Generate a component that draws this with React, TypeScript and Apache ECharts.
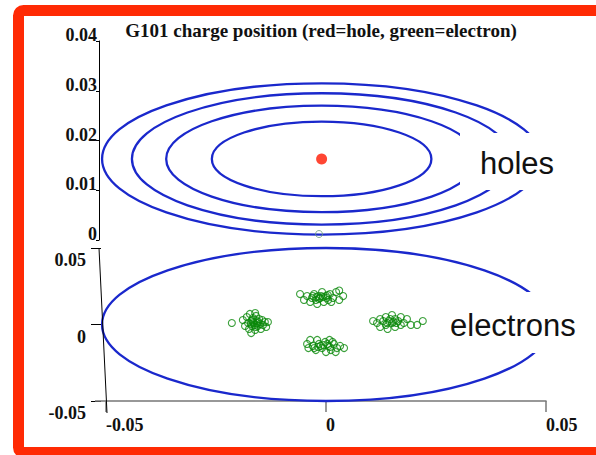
import React, { useEffect, useRef } from "react";
import * as echarts from "echarts";

const titleText = "G101 charge position (red=hole, green=electron)";
const holeLabel = "holes";
const electronLabel = "electrons";

// upper panel (holes): y ticks 0..0.04
const holeYMin = 0;
const holeYMax = 0.04;
const holeYStep = 0.01;
const holeXMin = -0.0518;
const holeXMax = 0.05;

// lower panel (electrons): both axes -0.05..0.05
const elecMin = -0.05;
const elecMax = 0.05;
const elecStep = 0.05;

// hole position and the contour rings around it: [cx, cy]
const holeCenter = [-0.0011, 0.0163];
const holeRingRx = [0.025, 0.0354, 0.0432, 0.05];
const holeRingRy = [0.0075, 0.0107, 0.0132, 0.0152];
const holeStrayElectron = [[-0.0017, 0.0012]];

// electron contour ring: [cx, cy, rx, ry]
const electronRing = [0, 0, 0.0509, 0.05];

const electronsLeft = [
  [-0.0214, 0.001], [-0.0189, 0.0029], [-0.0184, -0.001], [-0.018, 0.0049], [-0.0177, 0.001],
  [-0.0175, -0.0029], [-0.0173, 0.0069], [-0.017, 0.0023], [-0.0168, -0.001], [-0.0166, 0.0042],
  [-0.0164, 0.001], [-0.0161, -0.0036], [-0.0159, 0.0056], [-0.0157, 0.0023], [-0.0155, -0.001],
  [-0.0152, 0.0036], [-0.015, 0.0003], [-0.0148, -0.0029], [-0.0145, 0.0029], [-0.0143, -0.0003],
  [-0.0139, 0.0016], [-0.0136, -0.0016], [-0.0132, 0.0016], [-0.0161, 0.0075], [-0.017, -0.0056],
  [-0.0166, 0.0016], [-0.0162, -0.0003], [-0.0157, 0.001], [-0.0168, 0.0029], [-0.0159, -0.0016],
  [-0.0171, 0.0003], [-0.0153, 0.0016],
];
const electronsTop = [
  [-0.0059, 0.0199], [-0.005, 0.016], [-0.0043, 0.0186], [-0.0036, 0.0147], [-0.0032, 0.0173],
  [-0.0027, 0.0199], [-0.0023, 0.016], [-0.0018, 0.0186], [-0.0014, 0.0173], [-0.0009, 0.0212],
  [-0.0005, 0.0147], [0.0, 0.0186], [0.0005, 0.016], [0.0009, 0.0199], [0.0016, 0.0173],
  [0.0023, 0.0212], [0.003, 0.016], [0.0039, 0.0186], [-0.002, 0.0134], [0.0002, 0.0173],
  [-0.0011, 0.0186], [0.0012, 0.0147], [0.003, 0.0222], [-0.003, 0.0186], [-0.0016, 0.0166],
  [-0.0007, 0.0179], [0.0004, 0.0192], [-0.0022, 0.0179],
];
const electronsBottom = [
  [-0.0043, -0.0127], [-0.004, -0.0154], [-0.0036, -0.0101], [-0.003, -0.014], [-0.0023, -0.0167],
  [-0.0016, -0.0127], [-0.0009, -0.0154], [-0.0002, -0.0114], [0.0005, -0.014], [0.0011, -0.0167],
  [0.0018, -0.0127], [0.0025, -0.0154], [0.0032, -0.014], [0.0041, -0.0154], [-0.002, -0.0101],
  [0.0, -0.018], [0.0008, -0.0101], [-0.0012, -0.014], [0.0015, -0.0114], [0.0022, -0.018],
  [-0.0027, -0.0154], [0.0003, -0.0127], [-0.0006, -0.0134], [0.0009, -0.0147], [-0.0018, -0.0147],
];
const electronsRight = [
  [0.0107, 0.0023], [0.0116, 0.001], [0.0123, 0.0036], [0.0123, -0.0016], [0.013, 0.0023],
  [0.0136, 0.0049], [0.0136, -0.0003], [0.0143, 0.0023], [0.015, 0.0062], [0.015, 0.001],
  [0.0157, 0.0036], [0.0157, -0.0016], [0.0164, 0.0023], [0.017, 0.0049], [0.017, -0.0003],
  [0.0177, 0.001], [0.0184, 0.0036], [0.0193, -0.0003], [0.0207, -0.0003], [0.022, 0.0023],
  [0.014, -0.0029], [0.016, 0.001], [0.0146, 0.0036], [0.0153, 0.0016], [0.0139, 0.001],
];

const BLUE = "#1a28cc";
const GREEN = "#0a880a";
const RED = "#ff1800";
const FRAME = "#ff2a04";
const SERIF = "'Liberation Serif', 'Times New Roman', serif";
const SANS = "'Liberation Sans', Arial, sans-serif";

const ellipseRender = (params: any, api: any) => {
  const c = api.coord([api.value(0), api.value(1)]);
  const s = api.size([api.value(2), api.value(3)]);
  return {
    type: "ellipse",
    shape: { cx: c[0], cy: c[1], rx: s[0], ry: s[1] },
    style: { fill: "none", stroke: BLUE, lineWidth: 2.3 },
  };
};

const fmt = (v: number) => (Math.abs(v) < 1e-9 ? "0" : String(+v.toFixed(2)));

export default function App() {
  const ref = useRef<HTMLDivElement>(null);
  useEffect(() => {
    if (!ref.current) return;
    const chart = echarts.init(ref.current, undefined, { renderer: "svg" });
    const holeRings = holeRingRx.map((rx, i) => [holeCenter[0], holeCenter[1], rx, holeRingRy[i]]);
    const scatterStyle = {
      color: "rgba(0,0,0,0)",
      borderColor: GREEN,
      borderWidth: 1.1,
    };
    const tickFont = { fontFamily: SERIF, fontWeight: "bold" as const, fontSize: 18, color: "#111" };
    chart.setOption({
      animation: false,
      backgroundColor: "#ffffff",
      grid: [
        { left: 99, right: 50, top: 41, height: 199 },
        { left: 106, right: 50, top: 248, height: 153 },
      ],
      xAxis: [
        { gridIndex: 0, type: "value", min: holeXMin, max: holeXMax, show: false },
        {
          gridIndex: 1,
          type: "value",
          min: elecMin,
          max: elecMax,
          interval: elecStep,
          splitLine: { show: false },
          axisLine: { show: true, onZero: false, lineStyle: { color: "#777", width: 1.5 } },
          axisTick: { show: true, length: 11, lineStyle: { color: "#777", width: 1.5 } },
          axisLabel: { ...tickFont, align: "left", margin: 15, formatter: fmt },
        },
      ],
      yAxis: [
        {
          gridIndex: 0,
          type: "value",
          min: holeYMin,
          max: holeYMax,
          interval: holeYStep,
          splitLine: { show: false },
          axisLine: { show: true, onZero: false, lineStyle: { color: "#000", width: 1 } },
          axisTick: { show: true, length: 3, lineStyle: { color: "#000" } },
          axisLabel: {
            ...tickFont,
            margin: 2,
            verticalAlign: "bottom",
            lineHeight: 12,
            formatter: fmt,
          },
        },
        {
          gridIndex: 1,
          type: "value",
          min: elecMin,
          max: elecMax,
          interval: elecStep,
          offset: 5,
          splitLine: { show: false },
          axisLine: { show: false, onZero: false },
          axisTick: { show: true, length: 10, lineStyle: { color: "#000" } },
          axisLabel: {
            ...tickFont,
            margin: 15,
            verticalAlign: "top",
            lineHeight: 24,
            formatter: fmt,
          },
        },
      ],
      series: [
        {
          type: "custom",
          name: "hole rings",
          xAxisIndex: 0,
          yAxisIndex: 0,
          clip: false,
          renderItem: ellipseRender,
          encode: { x: 0, y: 1 },
          data: holeRings,
          z: 3,
        },
        {
          type: "scatter",
          name: "hole",
          xAxisIndex: 0,
          yAxisIndex: 0,
          symbol: "circle",
          symbolSize: 11,
          itemStyle: { color: RED },
          data: [holeCenter],
          z: 4,
        },
        {
          type: "scatter",
          name: "stray electron",
          xAxisIndex: 0,
          yAxisIndex: 0,
          symbol: "circle",
          symbolSize: 7,
          itemStyle: { color: "rgba(0,0,0,0)", borderColor: "#6a9a7a", borderWidth: 1 },
          data: holeStrayElectron,
          z: 4,
        },
        {
          type: "custom",
          name: "electron ring",
          xAxisIndex: 1,
          yAxisIndex: 1,
          clip: false,
          renderItem: ellipseRender,
          encode: { x: 0, y: 1 },
          data: [electronRing],
          z: 3,
        },
        ...[electronsLeft, electronsTop, electronsBottom, electronsRight].map((d) => ({
          type: "scatter",
          xAxisIndex: 1,
          yAxisIndex: 1,
          symbol: "circle",
          symbolSize: 7,
          itemStyle: scatterStyle,
          data: d,
          z: 4,
        })),
      ],
      graphic: [
        {
          type: "line",
          z: 20,
          shape: { x1: 99, y1: 248, x2: 107, y2: 413 },
          style: { stroke: "#000", lineWidth: 1 },
        },
        {
          type: "line",
          z: 20,
          shape: { x1: 95, y1: 401, x2: 106, y2: 401 },
          style: { stroke: "#777", lineWidth: 1.5 },
        },
        {
          type: "text",
          z: 20,
          x: 321,
          y: 30,
          style: {
            text: titleText,
            fill: "#111",
            font: `bold 19px ${SERIF}`,
            textAlign: "center",
            textVerticalAlign: "middle",
          },
        },
        {
          type: "rect",
          z: 50,
          shape: { x: 460, y: 133, width: 110, height: 57 },
          style: { fill: "#ffffff" },
        },
        {
          type: "text",
          z: 51,
          x: 480,
          y: 163,
          style: {
            text: holeLabel,
            fill: "#111",
            font: `31px ${SANS}`,
            textAlign: "left",
            textVerticalAlign: "middle",
          },
        },
        {
          type: "rect",
          z: 50,
          shape: { x: 440, y: 292, width: 150, height: 61 },
          style: { fill: "#ffffff" },
        },
        {
          type: "text",
          z: 51,
          x: 450,
          y: 325,
          style: {
            text: electronLabel,
            fill: "#111",
            font: `31px ${SANS}`,
            textAlign: "left",
            textVerticalAlign: "middle",
          },
        },
        {
          type: "rect",
          z: 60,
          shape: { x: 18.5, y: 10.5, width: 640, height: 442, r: 5 },
          style: { fill: "none", stroke: FRAME, lineWidth: 11 },
        },
      ],
    });
    return () => chart.dispose();
  }, []);
  return (
    <div
      ref={ref}
      style={{ position: "absolute", left: 0, top: 0, width: 596, height: 455 }}
    />
  );
}
